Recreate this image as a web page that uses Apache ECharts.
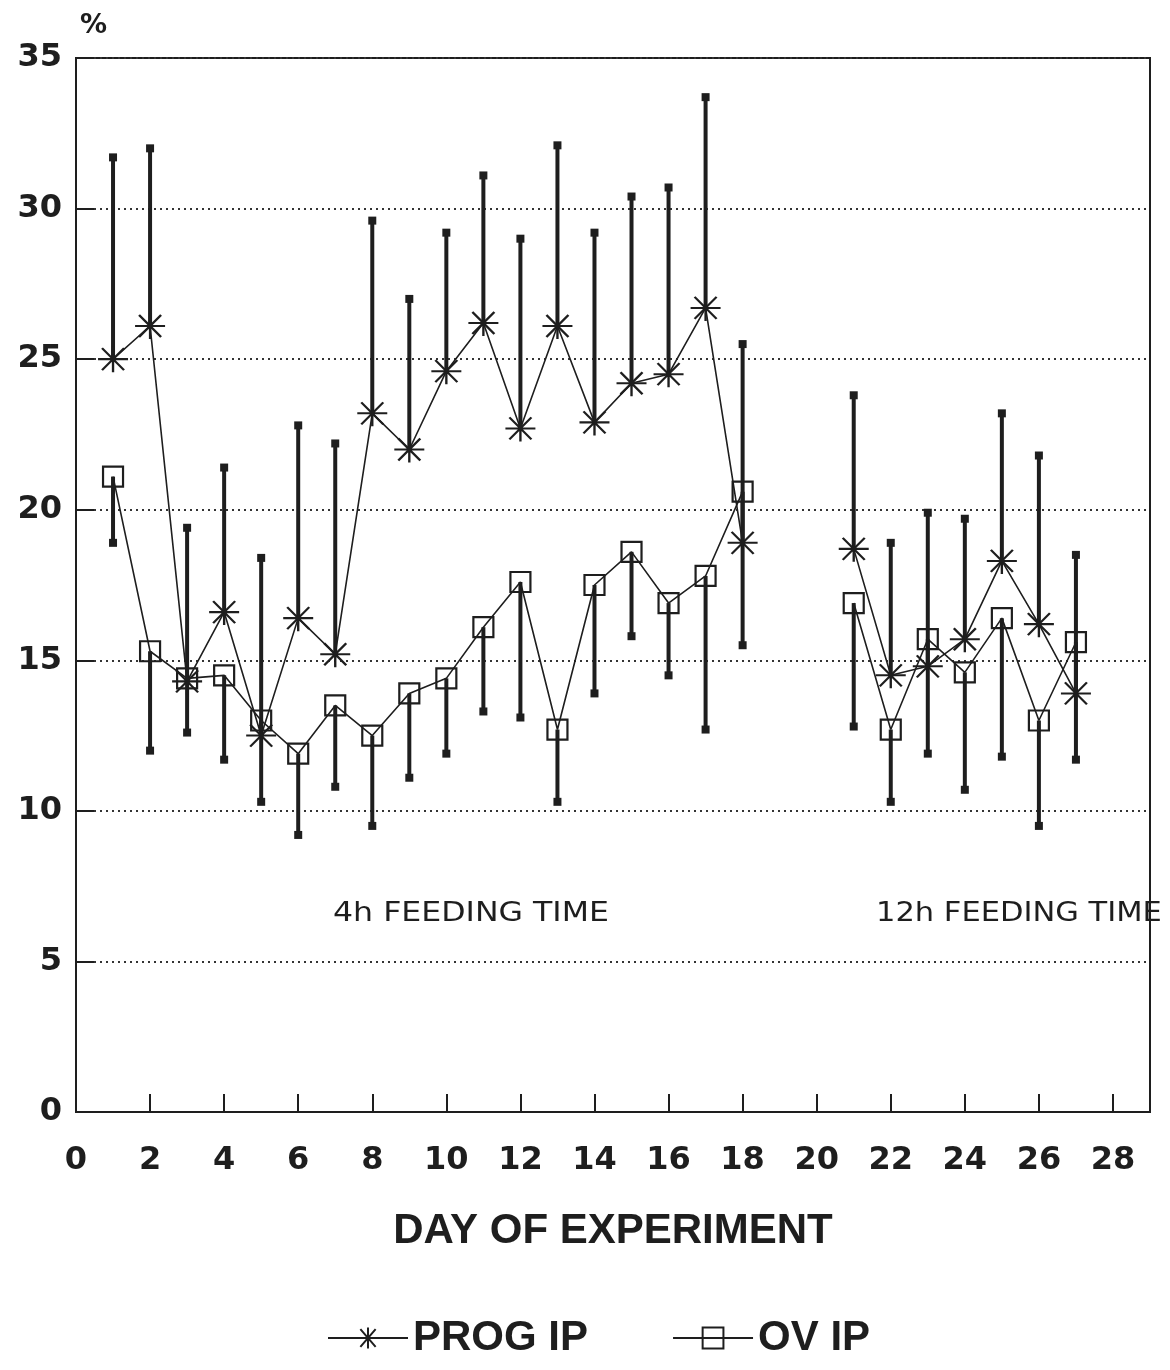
<!DOCTYPE html>
<html>
<head>
<meta charset="utf-8">
<script src="https://cdn.jsdelivr.net/npm/echarts@6/dist/echarts.min.js"></script>
<style>
html,body{margin:0;padding:0;background:#fff;}
#chart{width:1170px;height:1370px;}
</style>
</head>
<body>
<div id="chart"></div>
<script>
// ---- data ----
const days      = [1, 2, 3, 4, 5, 6, 7, 8, 9, 10, 11, 12, 13, 14, 15, 16, 17, 18, 19, 20, 21, 22, 23, 24, 25, 26, 27];
const progMean  = [25.0, 26.1, 14.3, 16.6, 12.5, 16.4, 15.2, 23.2, 22.0, 24.6, 26.2, 22.7, 26.1, 22.9, 24.2, 24.5, 26.7, 18.9, null, null, 18.7, 14.5, 14.8, 15.7, 18.3, 16.2, 13.9];
const progUpper = [31.7, 32.0, 19.4, 21.4, 18.4, 22.8, 22.2, 29.6, 27.0, 29.2, 31.1, 29.0, 32.1, 29.2, 30.4, 30.7, 33.7, 25.5, null, null, 23.8, 18.9, 19.9, 19.7, 23.2, 21.8, 18.5];
const ovMean    = [21.1, 15.3, 14.4, 14.5, 13.0, 11.9, 13.5, 12.5, 13.9, 14.4, 16.1, 17.6, 12.7, 17.5, 18.6, 16.9, 17.8, 20.6, null, null, 16.9, 12.7, 15.7, 14.6, 16.4, 13.0, 15.6];
const ovLower   = [18.9, 12.0, 12.6, 11.7, 10.3, 9.2, 10.8, 9.5, 11.1, 11.9, 13.3, 13.1, 10.3, 13.9, 15.8, 14.5, 12.7, 15.5, null, null, 12.8, 10.3, 11.9, 10.7, 11.8, 9.5, 11.7];
const seriesNames = ['PROG IP', 'OV IP'];
const xTitle = 'DAY OF EXPERIMENT';
const yUnit = '%';
const notes = ['4h FEEDING TIME', '12h FEEDING TIME'];

// ---- build ----
const INK = '#1e1e1e';
const lineData = (m) => days.map((d, i) => [d, m[i] == null ? '-' : m[i]]);
const barData = (m, e) => days.map((d, i) => [d, m[i], e[i]]).filter(r => r[1] != null && r[2] != null);

function errRender(params, api) {
  const x = api.value(0), m = api.value(1), e = api.value(2);
  const p0 = api.coord([x, m]);
  const p1 = api.coord([x, e]);
  return {
    type: 'group',
    children: [
      {type: 'line', shape: {x1: p0[0], y1: p0[1], x2: p1[0], y2: p1[1]}, style: {stroke: INK, lineWidth: 4}},
      {type: 'rect', shape: {x: p1[0] - 4, y: p1[1] - 4, width: 8, height: 8}, style: {fill: INK}}
    ]
  };
}

const asterisk = 'path://M0,13L30,13M15,0L15,26M4,2L26,24M26,2L4,24';
const numFont = {fontFamily: 'DejaVu Sans', fontWeight: 'bold', fontSize: 32, color: INK};

const chart = echarts.init(document.getElementById('chart'), null, {renderer: 'canvas'});
chart.setOption({
  backgroundColor: '#fff',
  animation: false,
  grid: {left: 76, top: 58, right: 20, bottom: 258, show: true, borderColor: INK, borderWidth: 2, backgroundColor: 'transparent'},
  xAxis: {
    type: 'value', min: 0, max: 29, interval: 2,
    axisLine: {show: true, lineStyle: {color: INK, width: 2}},
    axisTick: {show: true, inside: true, length: 18, lineStyle: {color: INK, width: 2}},
    axisLabel: Object.assign({margin: 33, formatter: v => (v % 2 === 0 ? String(v) : '')}, numFont),
    splitLine: {show: false},
    name: xTitle, nameLocation: 'middle', nameGap: 98,
    nameTextStyle: {fontFamily: 'Liberation Sans', fontWeight: 'bold', fontSize: 42, color: INK}
  },
  yAxis: {
    type: 'value', min: 0, max: 35, interval: 5,
    axisLine: {show: true, lineStyle: {color: INK, width: 2}},
    axisTick: {show: true, inside: true, length: 18, lineStyle: {color: INK, width: 2}},
    axisLabel: Object.assign({margin: 14}, numFont),
    splitLine: {show: true, lineStyle: {color: '#333', width: 2, type: [2, 4]}}
  },
  legend: {
    data: seriesNames,
    bottom: 6, left: 322,
    itemWidth: 80, itemHeight: 26, itemGap: 84,
    textStyle: {fontFamily: 'Liberation Sans', fontWeight: 'bold', fontSize: 42, color: INK}
  },
  graphic: [
    {type: 'text', x: 80, y: 12, style: {text: yUnit, font: 'bold 27px "DejaVu Sans"', fill: INK}},
    {type: 'text', x: 333, y: 900, scaleX: 1.17, style: {text: notes[0], font: '27px "DejaVu Sans"', fill: INK}},
    {type: 'text', x: 876, y: 900, scaleX: 1.13, style: {text: notes[1], font: '27px "DejaVu Sans"', fill: INK}}
  ],
  series: [
    {
      name: 'PROG IP err', type: 'custom', renderItem: errRender,
      data: barData(progMean, progUpper), encode: {x: 0, y: [1, 2]}, z: 2, silent: true
    },
    {
      name: 'OV IP err', type: 'custom', renderItem: errRender,
      data: barData(ovMean, ovLower), encode: {x: 0, y: [1, 2]}, z: 2, silent: true
    },
    {
      name: seriesNames[0], type: 'line', data: lineData(progMean), connectNulls: false,
      symbol: asterisk, symbolSize: [30, 26], showAllSymbol: true,
      lineStyle: {color: INK, width: 1.6},
      itemStyle: {color: INK, borderColor: INK, borderWidth: 2.2},
      emphasis: {disabled: true}, z: 3
    },
    {
      name: seriesNames[1], type: 'line', data: lineData(ovMean), connectNulls: false,
      symbol: 'rect', symbolSize: 20, showAllSymbol: true,
      lineStyle: {color: INK, width: 1.6},
      itemStyle: {color: 'rgba(255,255,255,0)', borderColor: INK, borderWidth: 2.2},
      emphasis: {disabled: true}, z: 3
    }
  ]
});
</script>
</body>
</html>
